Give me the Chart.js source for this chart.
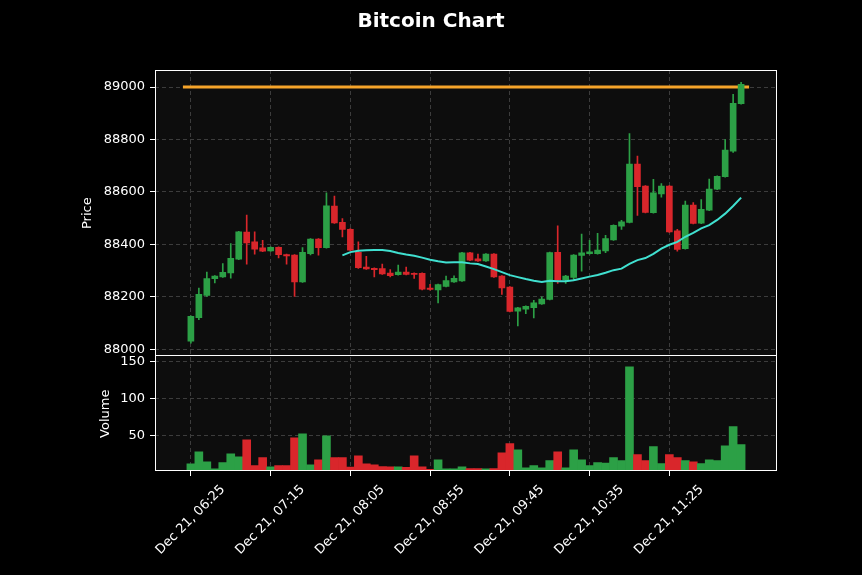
<!DOCTYPE html>
<html>
<head>
<meta charset="utf-8">
<script src="https://cdn.jsdelivr.net/npm/chart.js@4/dist/chart.umd.min.js"></script>
<style>
  html, body { margin: 0; padding: 0; background: #000; }
  #wrap { width: 862px; height: 575px; }
</style>
</head>
<body>
<div id="wrap"><canvas id="chart" width="862" height="575"></canvas></div>
<script>
"use strict";

// 5-minute candles, Dec 21 06:25 onwards
const opens  = [88031, 88121, 88206, 88269, 88276, 88291, 88344, 88447, 88410, 88387,
                88375, 88389, 88361, 88359, 88257, 88365, 88420, 88388, 88546, 88484,
                88458, 88370, 88314, 88309, 88308, 88291, 88285, 88295, 88290, 88290,
                88234, 88227, 88240, 88257, 88261, 88368, 88345, 88337, 88363, 88279,
                88237, 88146, 88153, 88159, 88173, 88190, 88370, 88266, 88274, 88358,
                88365, 88365, 88375, 88417, 88470, 88484, 88706, 88622, 88521, 88593,
                88622, 88452, 88384, 88550, 88481, 88531, 88611, 88658, 88756, 88937];
const highs  = [88128, 88234, 88295, 88281, 88327, 88403, 88450, 88512, 88448, 88416,
                88391, 88391, 88363, 88361, 88388, 88422, 88422, 88597, 88584, 88499,
                88460, 88410, 88355, 88311, 88325, 88304, 88321, 88314, 88292, 88292,
                88248, 88249, 88279, 88280, 88370, 88370, 88363, 88365, 88365, 88281,
                88239, 88160, 88166, 88187, 88200, 88371, 88471, 88282, 88361, 88439,
                88416, 88442, 88435, 88475, 88492, 88823, 88737, 88624, 88648, 88632,
                88624, 88458, 88565, 88560, 88571, 88649, 88662, 88800, 88972, 89018];
const lows   = [88024, 88113, 88202, 88253, 88274, 88271, 88342, 88325, 88363, 88372,
                88373, 88349, 88325, 88202, 88255, 88360, 88359, 88386, 88480, 88429,
                88376, 88309, 88305, 88276, 88286, 88276, 88283, 88284, 88270, 88227,
                88226, 88177, 88238, 88255, 88259, 88338, 88335, 88335, 88274, 88209,
                88143, 88089, 88136, 88120, 88171, 88188, 88251, 88251, 88266, 88298,
                88363, 88363, 88369, 88415, 88457, 88482, 88511, 88520, 88519, 88580,
                88446, 88374, 88382, 88478, 88479, 88529, 88609, 88656, 88751, 88935];
const closes = [88126, 88210, 88270, 88279, 88294, 88347, 88448, 88406, 88382, 88374,
                88389, 88361, 88356, 88257, 88370, 88420, 88388, 88547, 88482, 88457,
                88378, 88311, 88307, 88304, 88288, 88281, 88295, 88286, 88286, 88229,
                88228, 88247, 88262, 88271, 88368, 88340, 88337, 88363, 88276, 88234,
                88145, 88158, 88164, 88177, 88192, 88369, 88264, 88279, 88359, 88368,
                88372, 88378, 88422, 88473, 88486, 88706, 88620, 88522, 88597, 88622,
                88448, 88381, 88550, 88480, 88534, 88611, 88660, 88760, 88938, 89010];
const volumes = [11.7, 28, 14.4, 5, 13.5, 25.2, 21.2, 44.2, 9.5, 20.3,
                 7.7, 9.5, 9.5, 46.8, 52.3, 10.4, 17.1, 49.5, 20.3, 20.3,
                 7.2, 22.5, 11.7, 10.4, 8.1, 7.7, 7.7, 6.8, 22.5, 7.7,
                 4.1, 17.1, 5, 5, 7.7, 5.4, 5.4, 5, 5.4, 26.6,
                 39.2, 30.6, 6.3, 9.5, 6.3, 16.2, 28, 6.3, 30.6, 17.1,
                 9.5, 13.5, 12.6, 20.3, 16.2, 142.8, 24.3, 16.2, 35.1, 12.2,
                 24.3, 20.3, 16.2, 14.4, 12.2, 17.1, 16.2, 36, 62.2, 37.8];

const tickIdx = [0, 10, 20, 30, 40, 50, 60];
const tickLabels = ["Dec 21, 06:25", "Dec 21, 07:15", "Dec 21, 08:05", "Dec 21, 08:55",
                    "Dec 21, 09:45", "Dec 21, 10:35", "Dec 21, 11:25"];
const priceTicks = [88000, 88200, 88400, 88600, 88800, 89000];
const volumeTicks = [50, 100, 150];
const hlineLevel = 89000;
const hlineSpan = [-1, 70];
const maPeriod = 20;

const UP = "#2ca046";
const DOWN = "#d9262b";
const FONT = "DejaVu Sans";

Chart.defaults.font.family = FONT;
Chart.defaults.font.size = 13;
Chart.defaults.color = "#ffffff";

// colour of each candle
const colors = closes.map((c, i) => (c >= opens[i] ? UP : DOWN));

// moving average of the close
const maData = [];
for (let i = maPeriod - 1; i < closes.length; i++) {
    let s = 0;
    for (let k = i - maPeriod + 1; k <= i; k++) s += closes[k];
    maData.push({ x: i, y: s / maPeriod });
}

const wickData = closes.map((_, i) => ({ x: i, y: [lows[i], highs[i]] }));
const bodyData = closes.map((c, i) => ({ x: i, y: [opens[i], c] }));
const volData = volumes.map((v, i) => ({ x: i, y: v }));

const gridColor = "#3c3c3c";
const dash = [4, 3];

// draws the dark panel background and the white frame around the two panels
const panels = {
    id: "panels",
    beforeDraw(chart) {
        const { ctx, chartArea } = chart;
        ctx.save();
        ctx.fillStyle = "#000";
        ctx.fillRect(0, 0, chart.width, chart.height);
        ctx.fillStyle = "#0d0d0d";
        ctx.fillRect(chartArea.left, chartArea.top, chartArea.right - chartArea.left, chartArea.bottom - chartArea.top);
        ctx.restore();
    },
    afterDraw(chart) {
        const { ctx, chartArea } = chart;
        const l = Math.round(chartArea.left) + 0.5;
        const r = Math.round(chartArea.right) - 0.5;
        const t = Math.round(chartArea.top) + 0.5;
        const b = Math.round(chartArea.bottom) - 0.5;
        const mid = Math.round(chart.scales.y.bottom) - 0.5;
        ctx.save();
        ctx.strokeStyle = "#ffffff";
        ctx.lineWidth = 1;
        ctx.strokeRect(l, t, r - l, b - t);
        ctx.beginPath();
        ctx.moveTo(l, mid);
        ctx.lineTo(r, mid);
        ctx.stroke();
        ctx.restore();
    }
};

new Chart(document.getElementById("chart"), {
    data: {
        datasets: [
            {
                type: "line", label: "MA", data: maData, yAxisID: "y",
                borderColor: "#40e0d0", borderWidth: 2, pointRadius: 0, tension: 0, order: 0
            },
            {
                type: "bar", label: "body", data: bodyData, yAxisID: "y", grouped: false,
                backgroundColor: colors, barThickness: 6, minBarLength: 1, order: 1
            },
            {
                type: "bar", label: "wick", data: wickData, yAxisID: "y", grouped: false,
                backgroundColor: colors, barThickness: 1, order: 2
            },
            {
                type: "line", label: "level",
                data: hlineSpan.map(x => ({ x, y: hlineLevel })), yAxisID: "y",
                borderColor: "#f5a42a", borderWidth: 3, pointRadius: 0, order: 3
            },
            {
                type: "bar", label: "volume", data: volData, yAxisID: "yVol", grouped: false,
                backgroundColor: colors, barPercentage: 1, categoryPercentage: 1, order: 4
            }
        ]
    },
    options: {
        responsive: false,
        animation: false,
        devicePixelRatio: 1,
        layout: { padding: 0 },
        plugins: {
            legend: { display: false },
            tooltip: { enabled: false },
            title: {
                display: true,
                text: "Bitcoin Chart",
                color: "#ffffff",
                font: { family: FONT, size: 20, weight: "bold" },
                padding: { top: 10, bottom: 36 }
            }
        },
        scales: {
            x: {
                type: "linear",
                min: -4.5,
                max: 73.5,
                offset: false,
                afterBuildTicks: s => { s.ticks = tickIdx.map(v => ({ value: v })); },
                afterFit: s => { s.height = 104; },
                ticks: {
                    autoSkip: false,
                    minRotation: 45,
                    maxRotation: 45,
                    padding: 6,
                    labelOffset: 32,
                    color: "#ffffff",
                    callback: v => tickLabels[tickIdx.indexOf(v)]
                },
                grid: { offset: false, color: gridColor, tickColor: "#ffffff", tickLength: 5 },
                border: { display: false, dash }
            },
            yVol: {
                type: "linear",
                position: "left",
                stack: "panels",
                stackWeight: 1,
                min: 2,
                max: 157,
                afterBuildTicks: s => { s.ticks = volumeTicks.map(v => ({ value: v })); },
                afterFit: s => { s.width = 155; },
                ticks: { padding: 5, color: "#ffffff", callback: v => String(v) },
                grid: { color: gridColor, tickColor: "#ffffff", tickLength: 5 },
                border: { display: false, dash },
                title: { display: true, text: "Volume", color: "#ffffff", padding: { top: 98, bottom: 0 } }
            },
            y: {
                type: "linear",
                position: "left",
                stack: "panels",
                stackWeight: 2.5,
                min: 87973,
                max: 89065,
                afterBuildTicks: s => { s.ticks = priceTicks.map(v => ({ value: v })); },
                afterFit: s => { s.width = 155; },
                ticks: { padding: 5, color: "#ffffff", callback: v => String(v) },
                grid: { color: gridColor, tickColor: "#ffffff", tickLength: 5 },
                border: { display: false, dash },
                title: { display: true, text: "Price", color: "#ffffff", padding: { top: 80, bottom: 0 } }
            },
            // empty axis that only keeps the right margin
            spacer: {
                type: "linear",
                position: "right",
                afterFit: s => { s.width = 85; },
                ticks: { display: false },
                grid: { display: false },
                border: { display: false }
            }
        }
    },
    plugins: [panels]
});
</script>
</body>
</html>
